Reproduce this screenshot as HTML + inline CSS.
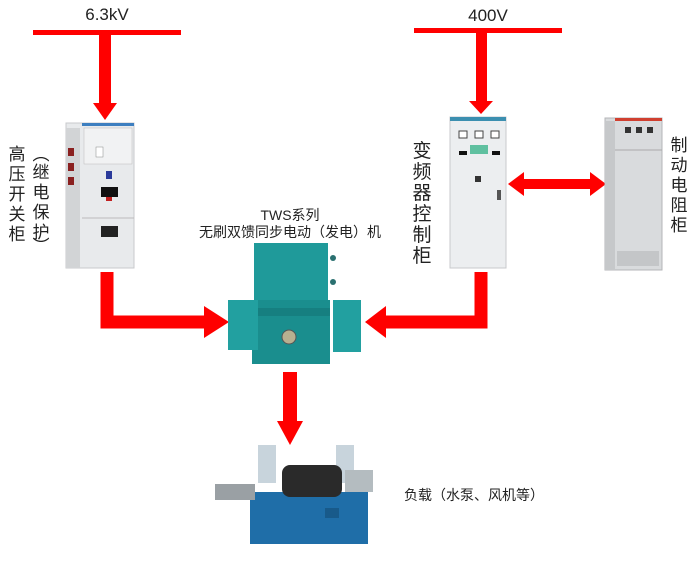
<!DOCTYPE html>
<html><head><meta charset="utf-8"><style>
html,body{margin:0;padding:0;background:#fff;}
svg{display:block;font-family:"Liberation Sans","Noto Sans CJK SC",sans-serif;}
</style></head><body>
<svg width="691" height="561" viewBox="0 0 691 561" xmlns="http://www.w3.org/2000/svg">
<rect width="691" height="561" fill="#fff"/>
<text x="107" y="20" font-size="17" text-anchor="middle" fill="#222">6.3kV</text>
<text x="488" y="21" font-size="17" text-anchor="middle" fill="#222">400V</text>
<rect x="33" y="30" width="148" height="5" fill="#f00"/>
<rect x="414" y="28" width="148" height="5" fill="#f00"/>
<rect x="99" y="33" width="12" height="70" fill="#f00"/>
<polygon points="93,103 117,103 105,120" fill="#f00"/>
<rect x="476" y="31" width="11" height="70" fill="#f00"/>
<polygon points="469,101 493,101 481,114" fill="#f00"/>
<rect x="66" y="123" width="68" height="145" fill="#e8eaec" stroke="#c8cacc"/>
<rect x="82" y="123" width="52" height="3" fill="#3d7fc0"/>
<rect x="66" y="128" width="14" height="140" fill="#d2d4d6"/>
<rect x="68" y="148" width="6" height="8" fill="#8a2020"/>
<rect x="68" y="163" width="6" height="8" fill="#8a2020"/>
<rect x="68" y="177" width="6" height="8" fill="#8a2020"/>
<rect x="84" y="128" width="48" height="36" fill="#f1f2f3" stroke="#bbb" stroke-width="0.5"/>
<rect x="96" y="147" width="7" height="10" fill="#fff" stroke="#888" stroke-width="0.5"/>
<rect x="106" y="171" width="6" height="8" fill="#2a3a9a"/>
<rect x="101" y="187" width="17" height="10" fill="#111"/>
<rect x="106" y="197" width="6" height="4" fill="#c02020"/>
<rect x="101" y="226" width="17" height="11" fill="#222"/>
<line x1="82" y1="218" x2="134" y2="218" stroke="#bbb"/>
<text font-size="17" fill="#222" text-anchor="middle">
<tspan x="17" y="160">高</tspan><tspan x="17" y="180">压</tspan><tspan x="17" y="200">开</tspan><tspan x="17" y="220">关</tspan><tspan x="17" y="240">柜</tspan></text>
<text font-size="17" fill="#222" text-anchor="middle">
<tspan x="41" y="160">︵</tspan><tspan x="41" y="178">继</tspan><tspan x="41" y="198">电</tspan><tspan x="41" y="218">保</tspan><tspan x="41" y="238">护</tspan><tspan x="41" y="252">︶</tspan></text>
<path d="M107,272 V322 H205" fill="none" stroke="#f00" stroke-width="13"/>
<polygon points="204,306 229,322 204,338" fill="#f00"/>
<rect x="450" y="117" width="56" height="151" fill="#eceef0" stroke="#c8cacc"/>
<rect x="450" y="117" width="56" height="4" fill="#3c8fb0"/>
<rect x="459" y="131" width="8" height="7" fill="#fff" stroke="#444"/>
<rect x="475" y="131" width="8" height="7" fill="#fff" stroke="#444"/>
<rect x="491" y="131" width="8" height="7" fill="#fff" stroke="#444"/>
<rect x="470" y="145" width="18" height="9" fill="#5fc0a0"/>
<rect x="459" y="151" width="8" height="4" fill="#111"/>
<rect x="492" y="151" width="8" height="4" fill="#111"/>
<rect x="475" y="176" width="6" height="6" fill="#333"/>
<rect x="497" y="190" width="4" height="10" fill="#555"/>
<text font-size="19" fill="#222" text-anchor="middle">
<tspan x="422" y="157">变</tspan><tspan x="422" y="178">频</tspan><tspan x="422" y="199">器</tspan><tspan x="422" y="220">控</tspan><tspan x="422" y="241">制</tspan><tspan x="422" y="262">柜</tspan></text>
<rect x="522" y="179" width="70" height="10" fill="#f00"/>
<polygon points="508,184 524,172 524,196" fill="#f00"/>
<polygon points="606,184 590,172 590,196" fill="#f00"/>
<rect x="605" y="118" width="57" height="152" fill="#d9dbdd" stroke="#b4b6b8"/>
<rect x="615" y="118" width="47" height="3" fill="#d04030"/>
<rect x="605" y="121" width="10" height="149" fill="#c6c8ca"/>
<line x1="615" y1="150" x2="662" y2="150" stroke="#aaa"/>
<rect x="625" y="127" width="6" height="6" fill="#333"/>
<rect x="636" y="127" width="6" height="6" fill="#333"/>
<rect x="647" y="127" width="6" height="6" fill="#333"/>
<rect x="617" y="251" width="42" height="15" fill="#c4c6c8"/>
<text font-size="17" fill="#222" text-anchor="middle">
<tspan x="679" y="151">制</tspan><tspan x="679" y="171">动</tspan><tspan x="679" y="191">电</tspan><tspan x="679" y="211">阻</tspan><tspan x="679" y="231">柜</tspan></text>
<path d="M481,272 V322 H385" fill="none" stroke="#f00" stroke-width="13"/>
<polygon points="386,306 365,322 386,338" fill="#f00"/>
<text x="290" y="220" font-size="14" text-anchor="middle" fill="#222">TWS系列</text>
<text x="290" y="237" font-size="14" text-anchor="middle" fill="#222">无刷双馈同步电动（发电）机</text>
<rect x="254" y="243" width="74" height="60" fill="#1f9a9a"/>
<rect x="252" y="300" width="78" height="64" fill="#1a8e8e"/>
<rect x="228" y="300" width="30" height="50" fill="#22a0a0"/>
<rect x="333" y="300" width="28" height="52" fill="#22a0a0"/>
<rect x="258" y="308" width="72" height="8" fill="#167f80"/>
<circle cx="289" cy="337" r="7" fill="#b8b090" stroke="#555"/>
<circle cx="333" cy="258" r="3" fill="#2a7070"/>
<circle cx="333" cy="282" r="3" fill="#2a7070"/>
<rect x="283" y="372" width="14" height="52" fill="#f00"/>
<polygon points="277,421 303,421 290,445" fill="#f00"/>
<rect x="258" y="445" width="18" height="38" fill="#c8d4dc"/>
<rect x="336" y="445" width="18" height="38" fill="#c8d4dc"/>
<rect x="250" y="492" width="118" height="52" fill="#1f6ea8"/>
<rect x="282" y="465" width="60" height="32" rx="8" fill="#2a2a2a"/>
<rect x="215" y="484" width="40" height="16" fill="#9aa0a4"/>
<rect x="345" y="470" width="28" height="22" fill="#b4bcc0"/>
<rect x="325" y="508" width="14" height="10" fill="#185a8a"/>
<text x="404" y="500" font-size="14" fill="#222">负载（水泵、风机等）</text>
</svg>
</body></html>
